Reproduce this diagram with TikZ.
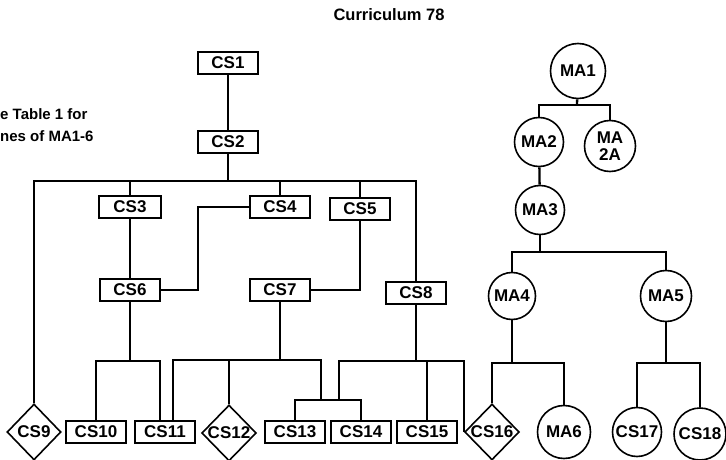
\documentclass[tikz,border=0pt]{standalone}
\usepackage{fontspec}
\setmainfont{Liberation Sans}
\usepackage{tikz}
\usetikzlibrary{shapes.geometric,calc}
\tikzset{csbox/.style={rectangle, draw, line width=1.6pt, minimum width=60pt, minimum height=22pt, inner sep=0pt, font=\fontsize{17}{18}\selectfont\bfseries}}
\tikzset{csdiam/.style={diamond, draw, line width=1.6pt, minimum width=54pt, minimum height=56pt, inner sep=0pt, font=\fontsize{17}{18}\selectfont\bfseries}}
\tikzset{macirc/.style={circle, draw, line width=1.6pt, minimum size=49pt, inner sep=0pt, align=center, font=\fontsize{17}{17}\selectfont\bfseries}}
\tikzset{link/.style={line width=2.3pt}}
\tikzset{note/.style={anchor=west, inner sep=0pt, font=\fontsize{15}{17}\selectfont\bfseries}}

\begin{document}
\begin{tikzpicture}[x=1pt, y=-1pt]
  \useasboundingbox (0,0) rectangle (726,460);

  \node[font=\fontsize{16.5}{18}\selectfont\bfseries] (title) at (389,15) {Curriculum 78};
  \node[note] (note1) at (0,114) {e Table 1 for};
  \node[note] (note2) at (0,136) {nes of MA1-6};

  % computer science courses
  \node[csbox] (cs1) at (228,63) {CS1};
  \node[csbox] (cs2) at (228,142) {CS2};
  \node[csbox, minimum width=62pt] (cs3) at (130,207) {CS3};
  \node[csbox] (cs4) at (280,207) {CS4};
  \node[csbox] (cs5) at (360,209) {CS5};
  \node[csbox] (cs6) at (130,290) {CS6};
  \node[csbox] (cs7) at (280,290) {CS7};
  \node[csbox] (cs8) at (416,293) {CS8};
  \node[csdiam] (cs9) at (34,432) {CS9};
  \node[csbox] (cs10) at (96,432) {CS10};
  \node[csbox] (cs11) at (165,432) {CS11};
  \node[csdiam] (cs12) at (229,433) {CS12};
  \node[csbox] (cs13) at (295,432) {CS13};
  \node[csbox] (cs14) at (361,432) {CS14};
  \node[csbox] (cs15) at (427,432) {CS15};
  \node[csdiam] (cs16) at (492,432) {CS16};

  % mathematics courses
  \node[macirc, minimum size=55pt] (ma1) at (578,71) {MA1};
  \node[macirc] (ma2) at (539,142) {MA2};
  \node[macirc, minimum size=51pt] (ma2a) at (610,146) {MA\\2A};
  \node[macirc] (ma3) at (540,210) {MA3};
  \node[macirc, minimum size=47pt] (ma4) at (512,296) {MA4};
  \node[macirc, minimum size=51pt] (ma5) at (666,296) {MA5};
  \node[macirc, minimum size=53pt] (ma6) at (564,432) {MA6};
  \node[macirc] (cs17) at (637,432) {CS17};
  \node[macirc, minimum size=52pt] (cs18) at (700,434) {CS18};

  % junctions
  \coordinate (bus2) at (228,181);
  \coordinate (j46) at (198,290);
  \coordinate (bus6) at (130,361);
  \coordinate (bus7) at (280,360);
  \coordinate (sub7) at (321,400);
  \coordinate (sub8) at (339,400);
  \coordinate (bus8) at (416,361);
  \coordinate (busm1) at (577,105);
  \coordinate (busm3) at (540,252);
  \coordinate (busm4) at (512,363);
  \coordinate (busm5) at (666,363);

  \draw[link] (cs1) -- (cs2);
  \draw[link] (cs2) -- (bus2);
  \draw[link] (cs9.north) |- (bus2) -| (cs8.north);
  \draw[link] (cs3) -- (cs3 |- bus2);
  \draw[link] (cs4) -- (cs4 |- bus2);
  \draw[link] (cs5) -- (cs5 |- bus2);
  \draw[link] (cs3) -- (cs6);
  \draw[link] (cs4.west) -| (j46) -- (cs6.east);
  \draw[link] (cs5.south) |- (cs7.east);

  \draw[link] (cs6) -- (bus6);
  \draw[link] (cs10.north) |- (bus6) -| ([xshift=-5pt]cs11.north);
  \draw[link] (cs7) -- (bus7);
  \draw[link] ([xshift=8pt]cs11.north) |- (bus7) -| (sub7);
  \draw[link] (cs12.north) -- (cs12 |- bus7);
  \draw[link] (cs13.north) |- (sub7) -- (sub8) -| (cs14.north);
  \draw[link] (cs8) -- (bus8);
  \draw[link] (sub8) |- (bus8) -| (cs16.west);
  \draw[link] (cs15.north) -- (cs15 |- bus8);

  \draw[link] (ma1) -- (busm1);
  \draw[link] (ma2.north) |- (busm1) -| (ma2a.north);
  \draw[link] (ma2) -- (ma3);
  \draw[link] (ma3) -- (busm3);
  \draw[link] (ma4.north) |- (busm3) -| (ma5.north);
  \draw[link] (ma4) -- (busm4);
  \draw[link] (cs16.north) |- (busm4) -| (ma6.north);
  \draw[link] (ma5) -- (busm5);
  \draw[link] (cs17.north) |- (busm5) -| (cs18.north);
\end{tikzpicture}
\end{document}
